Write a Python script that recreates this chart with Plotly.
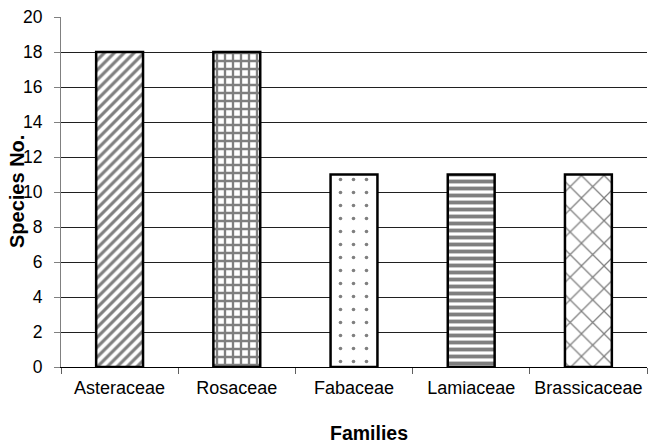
import plotly.graph_objects as go

families = ["Asteraceae", "Rosaceae", "Fabaceae", "Lamiaceae", "Brassicaceae"]
species_no = [18, 18, 11, 11, 11]
y_ticks = [0, 2, 4, 6, 8, 10, 12, 14, 16, 18, 20]

# one fill pattern per family
pattern_shapes = ["/", "+", ".", "-", "x"]
pattern_sizes = [7, 8, 13, 7, 16]
pattern_solidity = [0.45, 0.5, 0.06, 0.55, 0.15]

font_family = "Liberation Sans, Arial, sans-serif"

fig = go.Figure(
    go.Bar(
        x=families,
        y=species_no,
        width=0.4,
        marker=dict(
            color="white",
            line=dict(color="black", width=2.5),
            pattern=dict(
                shape=pattern_shapes,
                size=pattern_sizes,
                solidity=pattern_solidity,
                fgcolor="black",
                bgcolor="white",
                fillmode="overlay",
            ),
        ),
        showlegend=False,
    )
)

fig.update_layout(
    width=648,
    height=446,
    margin=dict(l=61, r=1, t=17, b=79),
    paper_bgcolor="white",
    plot_bgcolor="white",
    font=dict(family=font_family, size=17, color="black"),
    bargap=0.6,
)

fig.update_xaxes(
    type="category",
    showline=True,
    linecolor="black",
    linewidth=1,
    ticks="outside",
    tickson="boundaries",
    ticklen=6,
    tickcolor="#606060",
    showgrid=False,
    tickfont=dict(size=18),
    ticklabelstandoff=4,
)

fig.update_yaxes(
    range=[0, 20],
    tickvals=y_ticks,
    showline=True,
    linecolor="#808080",
    linewidth=1,
    ticks="outside",
    ticklen=6,
    tickcolor="#808080",
    showgrid=True,
    gridcolor="#202020",
    gridwidth=1,
    zeroline=False,
    tickfont=dict(size=17.5),
    ticklabelstandoff=8,
)

# axis titles positioned in plot-area fractions
plot_l, plot_r, plot_t, plot_b = 61, 647, 17, 367
fig.add_annotation(
    text="<b>Families</b>",
    xref="paper", yref="paper",
    x=(369 - plot_l) / (plot_r - plot_l),
    y=-(433 - plot_b) / (plot_b - plot_t),
    showarrow=False,
    font=dict(size=19.5),
    xanchor="center", yanchor="middle",
)
fig.add_annotation(
    text="<b>Species No.</b>",
    xref="paper", yref="paper",
    x=-(plot_l - 17) / (plot_r - plot_l),
    y=(plot_b - 191) / (plot_b - plot_t),
    textangle=-90,
    showarrow=False,
    font=dict(size=20),
    xanchor="center", yanchor="middle",
)

fig.write_html("out.html")
